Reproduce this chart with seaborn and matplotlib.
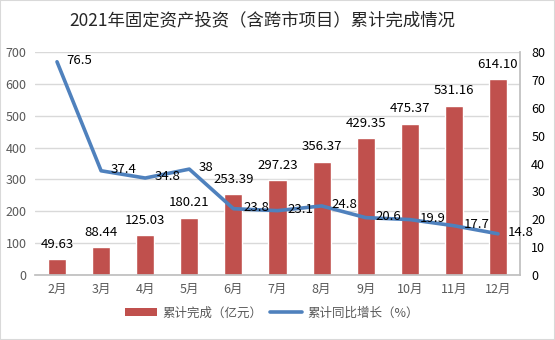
import matplotlib
matplotlib.use("Agg")
import matplotlib.pyplot as plt
import seaborn as sns
import pandas as pd
from matplotlib.patches import Patch
from matplotlib.lines import Line2D

sns.set_theme(style="white")
plt.rcParams['font.family'] = ['Noto Sans CJK SC', 'DejaVu Sans']

months = ["2月", "3月", "4月", "5月", "6月", "7月", "8月", "9月", "10月", "11月", "12月"]
invest = [49.63, 88.44, 125.03, 180.21, 253.39, 297.23, 356.37, 429.35, 475.37, 531.16, 614.10]
growth = [76.5, 37.4, 34.8, 38, 23.8, 23.1, 24.8, 20.6, 19.9, 17.7, 14.8]
growth_labels = ["76.5", "37.4", "34.8", "38", "23.8", "23.1", "24.8", "20.6", "19.9", "17.7", "14.8"]

df = pd.DataFrame({"month": months, "invest": invest, "growth": growth})

bar_color = "#C0504D"
line_color = "#4F81BD"
tick_color = "#595959"

fig = plt.figure(figsize=(5.55, 3.4), dpi=100)
ax = fig.add_axes([0.063, 0.191, 0.874, 0.656])

sns.barplot(data=df, x="month", y="invest", color=bar_color, width=0.41,
            saturation=1, ax=ax)
ax.set_ylim(0, 700)
ax.set_yticks(range(0, 701, 100))
ax.yaxis.grid(True, color="#D9D9D9", linewidth=1)
ax.set_axisbelow(True)
ax.set_xlabel("")
ax.set_ylabel("")
for s in ["top", "left", "right"]:
    ax.spines[s].set_visible(False)
ax.spines["bottom"].set_color("#BFBFBF")
ax.tick_params(axis="both", length=0, labelsize=9, colors=tick_color, pad=6)

for i, v in enumerate(invest):
    ax.annotate(f"{v:.2f}", (i, v), xytext=(0, 6), textcoords="offset points",
                ha="center", va="bottom", fontsize=9.5, color="#000000")

ax2 = ax.twinx()
sns.lineplot(data=df, x="month", y="growth", color=line_color, linewidth=2.6,
             ax=ax2, sort=False)
ax2.set_ylim(0, 80)
ax2.set_yticks(range(0, 81, 10))
ax2.set_ylabel("")
ax2.set_xlabel("")
for s in ["top", "left", "bottom"]:
    ax2.spines[s].set_visible(False)
ax2.spines["right"].set_color("#BFBFBF")
ax2.tick_params(axis="y", length=0, labelsize=9, colors="#000000", pad=8)
ax.set_xlim(-0.5, len(months) - 0.5)

for i, (v, t) in enumerate(zip(growth, growth_labels)):
    ax2.annotate(t, (i, v), xytext=(7, 1), textcoords="offset points",
                 ha="left", va="center", fontsize=9.5, color="#000000")

fig.text(0.472, 0.94, "2021年固定资产投资（含跨市项目）累计完成情况",
         ha="center", va="center", fontsize=12.5, color="#262626")

handles = [Patch(facecolor=bar_color, edgecolor="none"),
           Line2D([0], [0], color=line_color, linewidth=2.6)]
fig.legend(handles, ["累计完成（亿元）", "累计同比增长（%）"], loc="center",
           bbox_to_anchor=(0.49, 0.08), ncol=2, frameon=False, fontsize=9,
           handlelength=2.6, handletextpad=0.4, columnspacing=0.6,
           labelcolor="#595959")

fig.patches.append(plt.Rectangle((0, 0), 1, 1, transform=fig.transFigure,
                                 fill=False, edgecolor="#D9D9D9", linewidth=1.5))

fig.savefig("out.png", dpi=100)
